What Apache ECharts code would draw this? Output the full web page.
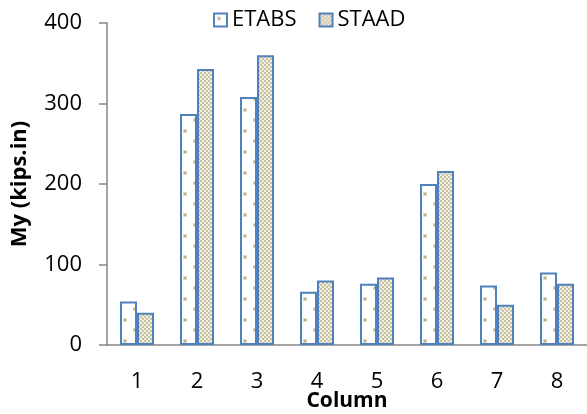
<!DOCTYPE html>
<html>
<head>
<meta charset="utf-8">
<script src="https://cdn.jsdelivr.net/npm/echarts@6/dist/echarts.min.js"></script>
<style>
  html, body { margin: 0; padding: 0; background: #fff; }
  #chart { width: 587px; height: 414px; }
</style>
</head>
<body>
<div id="chart"></div>
<script>
// 数据
var categories = ['1', '2', '3', '4', '5', '6', '7', '8'];
var etabs = [54, 287, 308, 66, 76, 200, 74, 90];
var staad = [40, 343, 360, 80, 84, 216, 50, 76];

// 填充图案
function dotPattern() {
  var c = document.createElement('canvas');
  c.width = 20; c.height = 21;
  var ctx = c.getContext('2d');
  ctx.fillStyle = '#ffffff';
  ctx.fillRect(0, 0, 20, 21);
  ctx.fillStyle = '#e2dcc4';
  ctx.fillRect(3, 3, 4, 4);
  ctx.fillRect(13, 13, 4, 4);
  ctx.fillStyle = '#b8ae84';
  ctx.fillRect(4, 4, 2, 2);
  ctx.fillRect(14, 14, 2, 2);
  return c;
}
function checkPattern() {
  var c = document.createElement('canvas');
  c.width = 4; c.height = 4;
  var ctx = c.getContext('2d');
  ctx.fillStyle = '#f1efe4';
  ctx.fillRect(0, 0, 4, 4);
  ctx.fillStyle = '#c9c1a0';
  ctx.fillRect(0, 0, 2, 2);
  ctx.fillRect(2, 2, 2, 2);
  return c;
}

var font = 'Open Sans';
var myChart = echarts.init(document.getElementById('chart'));

var option = {
  animation: false,
  textStyle: { fontFamily: font },
  legend: {
    left: 208,
    top: 4,
    icon: 'rect',
    itemWidth: 13,
    itemHeight: 13,
    itemGap: 22,
    textStyle: { fontFamily: font, fontSize: 22, color: '#000' },
    data: ['ETABS', 'STAAD']
  },
  grid: { left: 107, right: 0, top: 23, bottom: 69, containLabel: false, outerBoundsMode: 'none' },
  xAxis: {
    type: 'category',
    data: categories,
    name: 'Column',
    nameLocation: 'middle',
    nameGap: 46,
    nameMoveOverlap: false,
    nameTextStyle: { fontFamily: font, fontSize: 21, fontWeight: 'bold', color: '#000' },
    axisLine: { lineStyle: { color: '#868686', width: 1.5 } },
    axisTick: { length: 7, lineStyle: { color: '#868686', width: 1.5 } },
    axisLabel: { fontFamily: font, fontSize: 22, color: '#000', margin: 26 }
  },
  yAxis: {
    type: 'value',
    min: 0,
    max: 400,
    interval: 100,
    name: 'My (kips.in)',
    nameLocation: 'middle',
    nameGap: 76,
    nameMoveOverlap: false,
    nameTextStyle: { fontFamily: font, fontSize: 22, fontWeight: 'bold', color: '#000' },
    axisLine: { show: true, lineStyle: { color: '#868686', width: 1.5 } },
    axisTick: { show: true, length: 8, lineStyle: { color: '#868686', width: 1.5 } },
    axisLabel: { fontFamily: font, fontSize: 22, color: '#000', margin: 25 },
    splitLine: { show: false }
  },
  series: [
    {
      name: 'ETABS',
      type: 'bar',
      barWidth: 17,
      barGap: '0%',
      data: etabs,
      itemStyle: {
        color: { image: dotPattern(), repeat: 'repeat' },
        borderColor: '#4f81bd',
        borderWidth: 2
      }
    },
    {
      name: 'STAAD',
      type: 'bar',
      barWidth: 17,
      barGap: '0%',
      data: staad,
      itemStyle: {
        color: { image: checkPattern(), repeat: 'repeat' },
        borderColor: '#4f81bd',
        borderWidth: 2
      }
    }
  ]
};

myChart.setOption(option);
</script>
</body>
</html>
